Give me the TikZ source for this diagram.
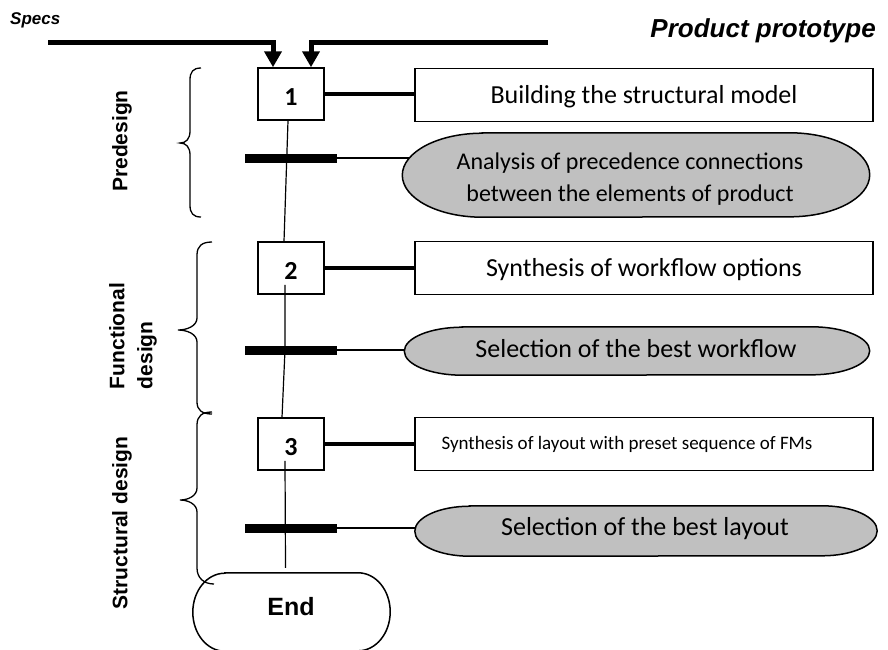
\documentclass[tikz,border=0pt]{standalone}
\usepackage{fontspec}
\setmainfont{Carlito}
\newfontfamily\arialf{Liberation Sans}
\usetikzlibrary{arrows.meta,backgrounds}
\definecolor{bellgray}{HTML}{C0C0C0}
% outline of a rounded decision shape around a named node: name, x radius, y radius
\newcommand\drawcapsule[4][capsule]{%
  \draw[#1] ([xshift=#3]#2.north west) -- ([xshift=-#3]#2.north east)
    arc[start angle=90, end angle=-90, x radius=#3, y radius=#4]
    -- ([xshift=#3]#2.south west)
    arc[start angle=270, end angle=90, x radius=#3, y radius=#4] -- cycle;}
\begin{document}
\begin{tikzpicture}[x=1pt,y=-1pt,
  stepbox/.style={draw, line width=1.5pt, minimum width=66pt, minimum height=52pt,
    inner sep=0pt, text height=22pt, text depth=0pt, font=\bfseries\fontsize{26}{30}\selectfont},
  taskbox/.style={draw, line width=1.5pt, minimum width=458pt, minimum height=53pt,
    inner sep=0pt, text height=18pt, text depth=1pt, font=\fontsize{26}{30}\selectfont},
  slot/.style={inner sep=0pt},
  capsule/.style={draw, line width=1.5pt, fill=bellgray},
  choicetext/.style={align=center, inner sep=0pt, font=\fontsize{26}{30}\selectfont},
  bar/.style={fill=black, minimum width=92pt, minimum height=9pt, inner sep=0pt},
  link/.style={line width=3.5pt},
  thinlink/.style={line width=1.2pt},
  spine/.style={line width=1.2pt},
  feed/.style={line width=5pt, line join=miter, -{Triangle[length=16pt,width=17pt]}},
  phase/.style={rotate=90, align=left, inner sep=0pt,
    font=\arialf\bfseries\fontsize{21}{28}\selectfont},
  bracepath/.style={line width=1.3pt},
  heading/.style={inner sep=0pt}
]
\useasboundingbox (0,0) rectangle (888,649);
\clip (0,0) rectangle (888,649);

% headings
\node[heading, anchor=west, font=\arialf\bfseries\itshape\fontsize{17}{20}\selectfont] (specs) at (10,20) {Specs};
\node[heading, anchor=east, font=\arialf\bfseries\itshape\fontsize{26}{30}\selectfont] (proto) at (876,31) {Product prototype};

% step boxes
\node[stepbox] (b1) at (291,94) {1};
\node[stepbox] (b2) at (291,268) {2};
\node[stepbox] (b3) at (291,444) {3};

% task boxes
\node[taskbox] (r1) at (644,95) {Building the structural model};
\node[taskbox] (r2) at (644,268) {Synthesis of workflow options};
\node[taskbox] (r3) at (644,444) {};
\node[inner sep=0pt, font=\fontsize{19}{23}\selectfont] (r3t) at (627,444) {Synthesis of layout with preset sequence of FMs};

% decision shapes (outlines are drawn on the background layer below)
\node[slot, minimum width=467pt, minimum height=84pt] (e1) at (636,175) {};
\node[choicetext, font=\fontsize{24}{32}\selectfont] (e1t) at (630,179) {Analysis of precedence connections\\between the elements of product};
\node[slot, minimum width=465pt, minimum height=48pt] (e2) at (637,351) {};
\node[choicetext] (e2t) at (636,349) {Selection of the best workflow};
\node[slot, minimum width=462pt, minimum height=50pt] (e3) at (646,531) {};
\node[choicetext] (e3t) at (645,529) {Selection of the best layout};

% synchronisation bars
\node[bar] (k1) at (291,158) {};
\node[bar] (k2) at (291,350) {};
\node[bar] (k3) at (291,528) {};

% terminator
\node[slot, minimum width=197pt, minimum height=78pt] (end) at (291.5,612) {};
\node[inner sep=0pt, font=\arialf\bfseries\fontsize{25}{30}\selectfont] (endt) at (291,607) {End};
\drawcapsule[draw, line width=1.5pt]{end}{32pt}{39pt}

% inputs
\coordinate (inL) at (48,42);
\coordinate (inR) at (548,42);
\draw[feed] (inL) -| ([xshift=-18pt]b1.north);
\draw[feed] (inR) -| ([xshift=20pt]b1.north);

% links from steps to tasks
\draw[link] (b1.east) -- (b1.east -| r1.west);
\draw[link] (b2.east) -- (b2.east -| r2.west);
\draw[link] (b3.east) -- (b3.east -| r3.west);

% links from bars to decisions, then the decision outlines over them
\begin{scope}[on background layer]
\draw[thinlink] (k1.east) -- (k1.east -| e1.center);
\draw[thinlink] (k2.east) -- (k2.east -| e2.center);
\draw[thinlink] (k3.east) -- (k3.east -| e3.center);
\drawcapsule{e1}{80pt}{42pt}
\drawcapsule{e2}{58pt}{24pt}
\drawcapsule{e3}{55pt}{25pt}
\end{scope}

% main flow line
\draw[spine] ([xshift=-3pt]b1.south) -- ([xshift=-7pt]b2.north);
\draw[spine] ([xshift=-6pt,yshift=10pt]b2.south) -- ([xshift=-6pt]k2.center) -- ([xshift=-9pt]b3.north);
\draw[spine] ([xshift=-6pt,yshift=10pt]b3.south) -- ([xshift=-6pt,yshift=5pt]end.north);

% phase braces
\draw[bracepath] (201,68) .. controls (193,68) and (190,72) .. (190,80) -- (190,131)
  .. controls (190,139) and (186,143) .. (180,143)
  .. controls (186,143) and (190,147) .. (190,155) -- (190,205)
  .. controls (190,213) and (193,217) .. (201,217);
\draw[bracepath] (212,242) .. controls (202,242) and (197,246) .. (197,255) -- (197,318)
  .. controls (197,326) and (187,330) .. (178,330)
  .. controls (187,330) and (197,334) .. (197,342) -- (197,402)
  .. controls (197,410) and (202,414) .. (212,414);
\draw[bracepath] (212,412) .. controls (202,412) and (197,416) .. (197,425) -- (197,488)
  .. controls (197,496) and (188,500) .. (180,500)
  .. controls (188,500) and (197,504) .. (197,512) -- (197,568)
  .. controls (197,578) and (204,584) .. (214,584);

% phase labels
\node[phase] (p1) at (122,141) {Predesign};
\node[phase] (p2) at (133,336) {Functional\\design};
\node[phase] (p3) at (122,523) {Structural design};
\end{tikzpicture}
\end{document}
